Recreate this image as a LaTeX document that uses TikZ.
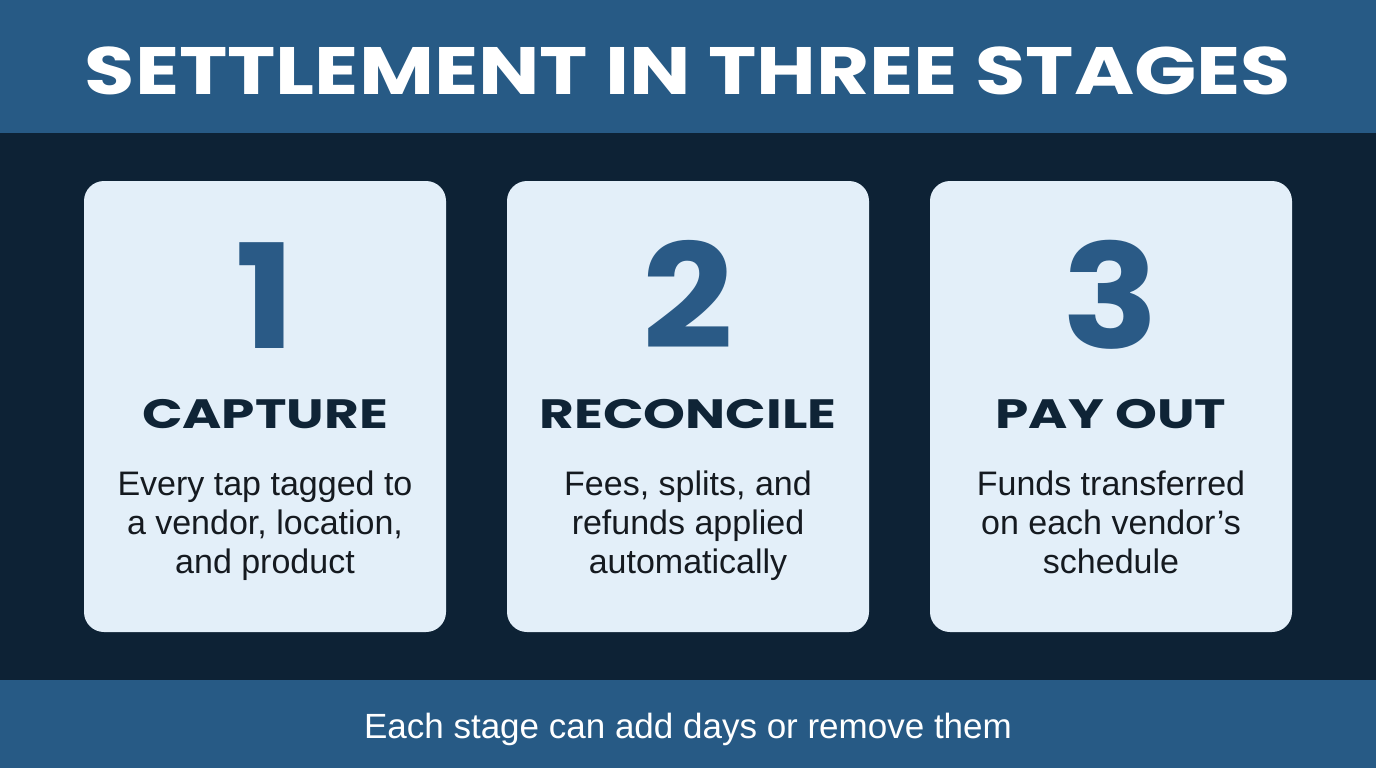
\documentclass[tikz,border=0pt]{standalone}
\usepackage{fontspec}
\setmainfont{Liberation Sans}
\newfontfamily\titlefont{Poppins}[FakeStretch=1.22]
\newfontfamily\digitfont{Poppins}[FakeStretch=1.1]
\newfontfamily\stagefont{Poppins}[FakeStretch=1.3]
\usetikzlibrary{positioning}
\definecolor{bandblue}{HTML}{275A85}
\definecolor{darkbg}{HTML}{0D2235}
\definecolor{cardfill}{HTML}{E3EFF9}
\definecolor{numblue}{HTML}{2A5A86}
\definecolor{inkdark}{HTML}{0F2436}
\definecolor{bodyink}{HTML}{151A20}

\begin{document}
\begin{tikzpicture}[x=1pt,y=-1pt,
card/.style={fill=cardfill,rounded corners=20pt,minimum width=362pt,minimum height=451pt,inner sep=0pt},
num/.style={font=\digitfont\bfseries\fontsize{145}{145}\selectfont,text=numblue,anchor=base,inner sep=0pt},
stage/.style={font=\stagefont\bfseries\fontsize{41}{41}\selectfont,text=inkdark,anchor=base,inner sep=0pt},
desc/.style={font=\fontsize{34}{39}\selectfont,text=bodyink,align=center,anchor=base,inner sep=0pt}]
\useasboundingbox (0,0) rectangle (1376,768);
% background and bands
\fill[darkbg] (0,0) rectangle (1376,768);
\fill[bandblue] (0,0) rectangle (1376,133);
\fill[bandblue] (0,680) rectangle (1376,768);
\node[font=\titlefont\bfseries\fontsize{67}{67}\selectfont,text=white,anchor=base,inner sep=0pt] (title) at (688,94) {SETTLEMENT IN THREE STAGES};
% stage cards
\node[card] (capture) at (265,406.5) {};
\node[card] (reconcile) at (688,406.5) {};
\node[card] (payout) at (1111,406.5) {};
\node[num] (n1) at (265,348) {1};
\node[num] (n2) at (688,348) {2};
\node[num] (n3) at (1111,348) {3};
\node[stage] (h1) at (265,428) {CAPTURE};
\node[stage] (h2) at (688,428) {RECONCILE};
\node[stage] (h3) at (1111,428) {PAY OUT};
% last line of each text sits on the given baseline
\node[desc] (d1) at (265,573) {Every tap tagged to\\a vendor, location,\\and product};
\node[desc] (d2) at (688,573) {Fees, splits, and\\refunds applied\\automatically};
\node[desc] (d3) at (1111,573) {Funds transferred\\on each vendor’s\\schedule};
% footer note
\node[font=\fontsize{35}{35}\selectfont,text=white,anchor=base,inner sep=0pt] (note) at (688,738) {Each stage can add days or remove them};
\end{tikzpicture}
\end{document}
